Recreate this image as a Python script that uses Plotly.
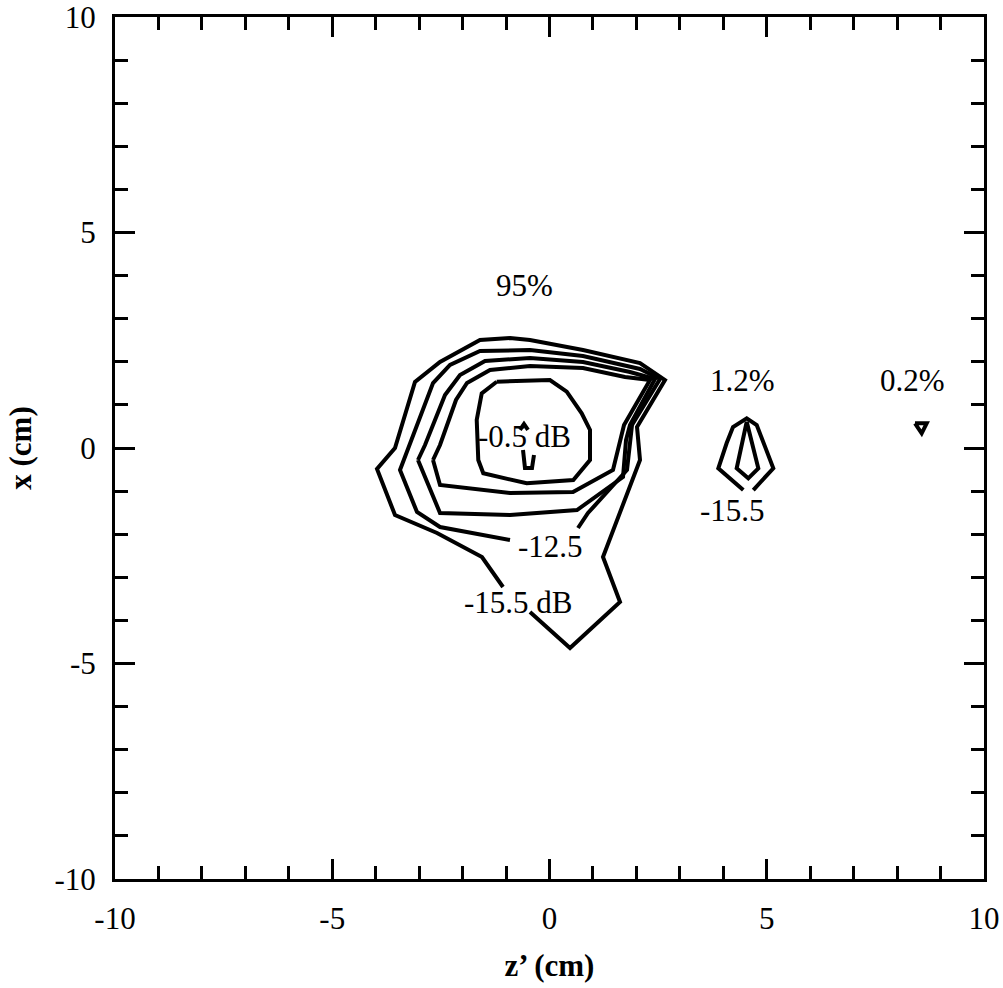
import plotly.graph_objects as go

# Axis ticks
tick_vals = [-10, -5, 0, 5, 10]
tick_text = ["-10", "-5", "0", "5", "10"]

# Main lobe: -15.5 dB contour (open where its label sits)
lobe_155_z = [-1.070, -1.554, -2.589, -3.556, -3.970, -3.556, -3.096, -2.520, -1.600, -0.909,
              -0.449, 0.771, 2.083, 2.658, 2.014, 2.083, 1.231, 1.623, 0.472, -0.449]
lobe_155_x = [-3.225, -2.529, -1.972, -1.555, -0.487, 0.000, 1.531, 1.995, 2.506, 2.552,
              2.506, 2.274, 1.972, 1.578, 0.487, -0.278, -2.529, -3.573, -4.640, -3.805]

# Main lobe: -12.5 dB contour (open where its label sits)
lobe_125_z = [0.656, 0.886, 1.784, 1.853, 1.899, 2.543, 2.083, 0.771, -0.449, -1.600,
              -2.290, -2.681, -3.211, -3.441, -3.050, -2.520, -0.909]
lobe_125_x = [-1.856, -1.508, -0.510, 0.186, 0.534, 1.601, 1.833, 2.135, 2.274, 2.251,
              1.926, 1.508, 0.070, -0.510, -1.485, -1.833, -2.135]

# Main lobe: intermediate contours
lobe_95_z = [-3.027, -2.520, -0.909, 0.633, 1.692, 1.761, 1.853, 2.428, 1.853, 0.771,
             -0.449, -1.484, -2.060, -2.405, -2.865, -3.027]
lobe_95_x = [-0.278, -1.508, -1.555, -1.439, -0.673, 0.186, 0.534, 1.601, 1.763, 1.995,
             2.088, 2.019, 1.694, 1.230, 0.070, -0.278]

lobe_65_z = [-2.681, -2.520, -0.909, 0.541, 1.461, 1.623, 1.715, 2.313, 1.738, 0.771,
             -0.449, -1.369, -1.899, -2.152, -2.520, -2.681]
lobe_65_x = [-0.278, -0.858, -1.044, -1.021, -0.510, 0.186, 0.534, 1.578, 1.647, 1.856,
             1.903, 1.810, 1.508, 1.114, 0.070, -0.278]

# Main lobe: -0.5 dB contour
lobe_05_z = [-1.215, 0.010, 0.396, 0.741, 0.932, 0.932, 0.548, -0.525, -1.524, -1.639,
             -1.675, -1.560, -1.215]
lobe_05_x = [1.538, 1.578, 1.306, 0.805, 0.418, -0.278, -0.742, -0.819, -0.587, -0.278,
             0.650, 1.269, 1.538]

# Peak contour, split by the -0.5 dB label
peak_z = [-0.679, -0.587, -0.495, None, -0.610, -0.564, -0.403, -0.357]
peak_x = [0.418, 0.557, 0.418, None, -0.046, -0.464, -0.464, -0.162]

# Side lobe near z' = 4.5 cm
side_outer_z = [4.460, 3.885, 4.078, 4.223, 4.539, 4.769, 5.151, 4.690]
side_outer_x = [-0.975, -0.471, 0.116, 0.487, 0.689, 0.534, -0.471, -0.975]
side_inner_z = [4.539, 4.308, 4.575, 4.806, 4.539]
side_inner_x = [0.610, -0.471, -0.703, -0.471, 0.610]

# Side lobe near z' = 8.6 cm
far_z = [8.412, 8.681, 8.566, 8.412]
far_x = [0.573, 0.573, 0.341, 0.573]

# Contour labels
label_text = ["95%", "-0.5 dB", "-12.5", "-15.5 dB", "1.2%", "-15.5", "0.2%"]
label_z = [-0.564, -0.564, 0.012, -0.725, 4.442, 4.212, 8.354]
label_x = [3.760, 0.278, -2.285, -3.585, 1.559, -1.439, 1.559]

FONT = "Liberation Serif"
FS = 31

fig = go.Figure()
line_style = dict(color="black", width=4)
for zs, xs in [(lobe_155_z, lobe_155_x), (lobe_125_z, lobe_125_x), (lobe_95_z, lobe_95_x),
               (lobe_65_z, lobe_65_x), (lobe_05_z, lobe_05_x), (peak_z, peak_x),
               (side_outer_z, side_outer_x), (side_inner_z, side_inner_x), (far_z, far_x)]:
    fig.add_trace(go.Scatter(x=zs, y=xs, mode="lines", line=line_style,
                             hoverinfo="skip", connectgaps=False))

for t, zc, xc in zip(label_text, label_z, label_x):
    fig.add_annotation(x=zc, y=xc, text=t, showarrow=False,
                       font=dict(family=FONT, size=FS, color="black"),
                       xanchor="center", yanchor="middle")

axis_common = dict(
    range=[-10, 10], tickmode="array", tickvals=tick_vals, ticktext=tick_text,
    showline=True, linewidth=3, linecolor="black", mirror="ticks",
    ticks="inside", ticklen=20, tickwidth=2.5, tickcolor="black",
    showgrid=False, zeroline=False, automargin=False,
    ticklabeloverflow="allow",
    minor=dict(ticks="inside", ticklen=13, tickwidth=2.5, tickcolor="black",
               dtick=1, tick0=0, showgrid=False),
    tickfont=dict(family=FONT, size=FS, color="black"),
)

fig.update_layout(
    width=1003, height=988,
    margin=dict(l=115, r=19, t=17, b=109),
    plot_bgcolor="white", paper_bgcolor="white",
    showlegend=False,
    xaxis=dict(axis_common, ticklabelstandoff=10,
               title=dict(text="<b>z’ (cm)</b>", standoff=20,
                          font=dict(family=FONT, size=FS, color="black"))),
    yaxis=dict(axis_common, ticklabelstandoff=10,
               title=dict(text="<b>x (cm)</b>", standoff=14,
                          font=dict(family=FONT, size=FS, color="black"))),
)

fig.write_html("out.html")
